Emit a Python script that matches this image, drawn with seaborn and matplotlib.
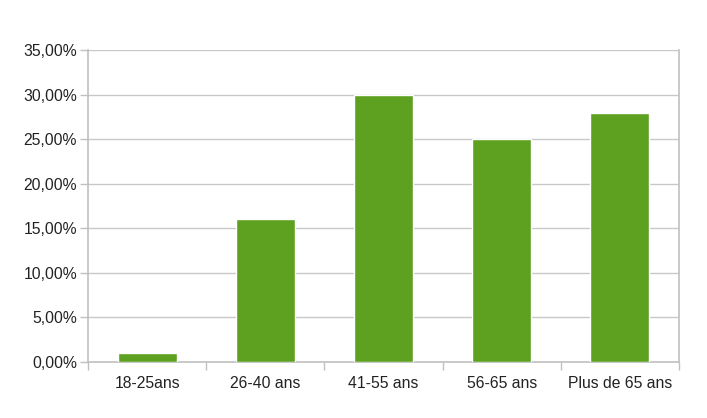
import matplotlib
matplotlib.use("Agg")
import matplotlib.pyplot as plt
import seaborn as sns
import pandas as pd
from matplotlib.ticker import FuncFormatter, FixedLocator

# data
categories = ["18-25ans", "26-40 ans", "41-55 ans", "56-65 ans", "Plus de 65 ans"]
values = [1.0, 16.0, 30.0, 25.0, 28.0]

df = pd.DataFrame({"age": categories, "pct": values})

sns.set_style("white")
plt.rcParams['font.family'] = ['Liberation Sans', 'DejaVu Sans']

fig = plt.figure(figsize=(7.07, 4.18), dpi=100)
ax = fig.add_axes([0.1245, 0.134, 0.8359, 0.746])

sns.barplot(data=df, x="age", y="pct", color="#5ea121", saturation=1,
            width=0.5, ax=ax, zorder=3)

ax.set_ylim(0, 35)
ax.set_xlim(-0.5, len(categories) - 0.5)
ax.set_yticks(range(0, 36, 5))
ax.yaxis.set_major_formatter(FuncFormatter(lambda v, p: f"{v:.2f}%".replace(".", ",")))
ax.set_xlabel("")
ax.set_ylabel("")

ax.grid(axis="y", color="#c8c8c8", linewidth=1, zorder=0)
ax.grid(axis="x", visible=False)

ax.xaxis.set_minor_locator(FixedLocator([i - 0.5 for i in range(len(categories) + 1)]))
ax.tick_params(axis="x", which="major", length=0, pad=10, labelsize=11.3, labelcolor="#222222")
ax.tick_params(axis="x", which="minor", length=6, color="#c0c0c0", width=1, bottom=True)
ax.tick_params(axis="y", length=6, color="#c0c0c0", width=1, left=True, labelsize=11.3,
               labelcolor="#222222", pad=2)

for s in ["left", "bottom", "right"]:
    ax.spines[s].set_color("#c0c0c0")
    ax.spines[s].set_linewidth(1.2)
ax.spines["top"].set_visible(False)

plt.savefig("out.png", dpi=100)
